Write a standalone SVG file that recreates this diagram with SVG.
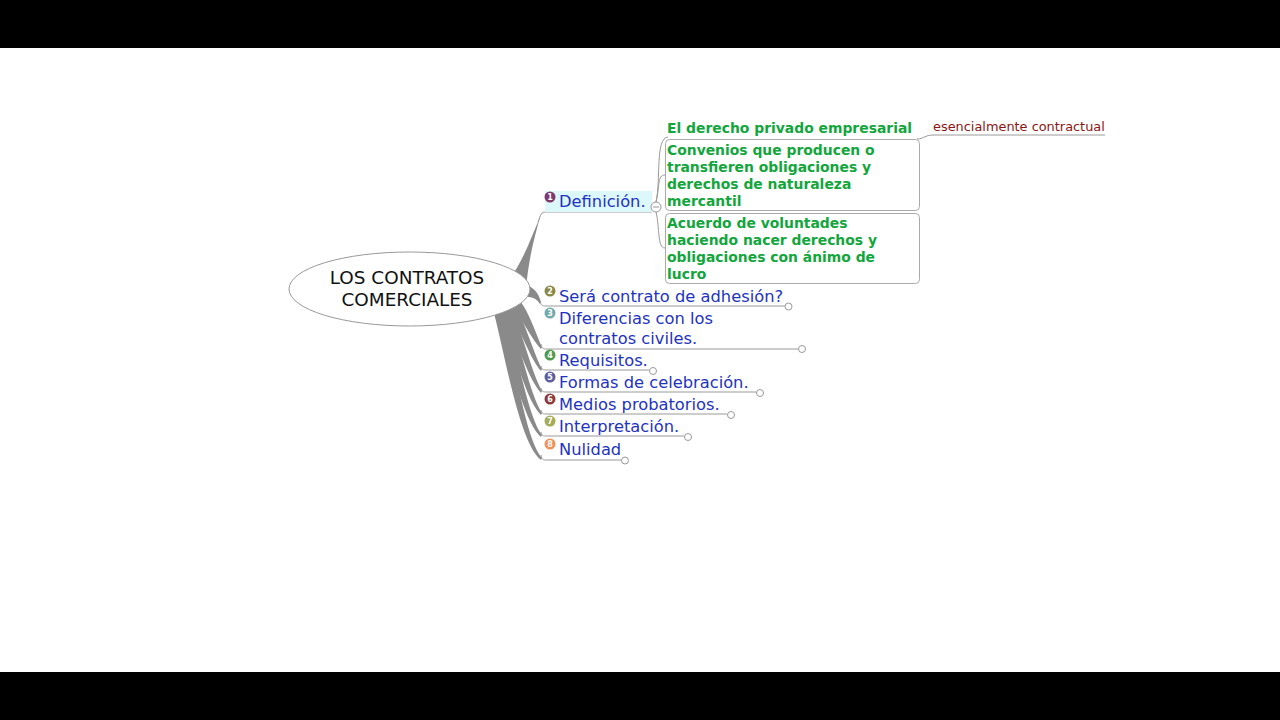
<svg xmlns="http://www.w3.org/2000/svg" width="1280" height="720" viewBox="0 0 1280 720">
<style>
.topic{font-family:"DejaVu Sans",sans-serif;font-size:16.3px;fill:#1f33c0}
.sub{font-family:"DejaVu Sans",sans-serif;font-size:13.9px;font-weight:bold;fill:#12a63c}
.leaf{font-family:"DejaVu Sans",sans-serif;font-size:12.9px;fill:#8b1414}
.root{font-family:"DejaVu Sans",sans-serif;font-size:18.4px;fill:#111}
.thin{fill:none;stroke:#9a9a9a;stroke-width:1}
.branch{fill:#8a8a8a;stroke:none}
.knob{fill:#fff;stroke:#999;stroke-width:1}
.box{fill:#fff;stroke:#aaa;stroke-width:1}
.num{font-family:"DejaVu Sans",sans-serif;font-size:8px;font-weight:bold;fill:#fff;text-anchor:middle}
</style>
<rect x="0" y="0" width="1280" height="720" fill="#fff"/>
<rect x="0" y="0" width="1280" height="48" fill="#000"/>
<rect x="0" y="672" width="1280" height="48" fill="#000"/>

<g id="connectors">
  <!-- tapered main branches -->
  <path class="branch" d="M504,286 C522,265 530,240 538,222 L541,214 C534,238 528,262 526,290 Z"/>
  <path class="branch" d="M518,283 C533,285 538,292 541,302 L540,304 C536,297 530,296 514,297 Z"/>
  <path class="branch" d="M510,292 C526,300 534,330 542,347 L541,349 C528,335 520,310 504,302 Z"/>
  <path class="branch" d="M508,296 C522,310 532,350 542,369 L541,371 C528,356 518,320 502,304 Z"/>
  <path class="branch" d="M506,300 C520,320 530,370 542,391 L541,393 C526,376 514,330 500,306 Z"/>
  <path class="branch" d="M504,304 C518,330 528,392 542,413 L541,415 C524,398 512,340 498,309 Z"/>
  <path class="branch" d="M502,306 C516,340 526,414 542,435 L541,437 C522,420 508,350 496,311 Z"/>
  <path class="branch" d="M500,308 C514,350 524,438 542,458 L541,460 C520,444 506,360 494,313 Z"/>

  <!-- thin underlines -->
  <path class="thin" d="M538,222 C541,214 541,212 546,212 L652,212"/>
  <path class="thin" d="M540.5,302 C541,306 543,306 547,306 L785,306"/>
  <path class="thin" d="M541,344 C542,349 543,349 547,349 L798,349"/>
  <path class="thin" d="M541,366 C542,370 543,370 547,370 L649,370"/>
  <path class="thin" d="M541,388 C542,392 543,392 547,392 L756,392"/>
  <path class="thin" d="M541,410 C542,414 543,414 547,414 L727,414"/>
  <path class="thin" d="M541,432 C542,436 543,436 547,436 L684,436"/>
  <path class="thin" d="M541,455 C542,460 543,460 547,460 L621,460"/>

  <!-- subtopic brackets -->
  <path class="thin" d="M656,202 C661,180 655,138 668,137"/>
  <path class="thin" d="M656,202 C660,186 657,175 665,175"/>
  <path class="thin" d="M656,212 C660,228 657,248 665,248"/>
  <path class="thin" d="M917,139 C924,139 924,135 934,135 L1105,135"/>

  <!-- end knobs -->
  <circle class="knob" cx="788.5" cy="306.5" r="3.5"/>
  <circle class="knob" cx="802" cy="349" r="3.5"/>
  <circle class="knob" cx="653" cy="371" r="3.5"/>
  <circle class="knob" cx="760" cy="393" r="3.5"/>
  <circle class="knob" cx="731" cy="415" r="3.5"/>
  <circle class="knob" cx="688" cy="437" r="3.5"/>
  <circle class="knob" cx="625" cy="460.5" r="3.5"/>
</g>

<g id="root">
  <ellipse cx="409.5" cy="289" rx="120.5" ry="37" fill="#fff" stroke="#999" stroke-width="1"/>
  <text class="root" x="407" y="284" text-anchor="middle">LOS CONTRATOS</text>
  <text class="root" x="407" y="306" text-anchor="middle">COMERCIALES</text>
</g>

<g id="topic1">
  <rect x="545" y="191" width="107" height="21" fill="#dcf8fb"/>
  <circle cx="550" cy="197" r="5.5" fill="#7e3a6e"/><text class="num" x="550" y="200">1</text>
  <text class="topic" x="559" y="207">Definición.</text>
  <circle class="knob" cx="656" cy="207" r="5"/>
  <line x1="653" y1="207" x2="659" y2="207" stroke="#999" stroke-width="1"/>
</g>

<g id="sub1">
  <text class="sub" x="667" y="133">El derecho privado empresarial</text>
</g>
<g id="leaf1">
  <text class="leaf" x="933" y="131">esencialmente contractual</text>
</g>
<g id="sub2">
  <rect class="box" x="665.5" y="139.5" width="254" height="71" rx="4"/>
  <text class="sub" x="667" y="155">Convenios que producen o</text>
  <text class="sub" x="667" y="172">transfieren obligaciones y</text>
  <text class="sub" x="667" y="189">derechos de naturaleza</text>
  <text class="sub" x="667" y="206">mercantil</text>
</g>
<g id="sub3">
  <rect class="box" x="665.5" y="213.5" width="254" height="70" rx="4"/>
  <text class="sub" x="667" y="228">Acuerdo de voluntades</text>
  <text class="sub" x="667" y="245">haciendo nacer derechos y</text>
  <text class="sub" x="667" y="262">obligaciones con ánimo de</text>
  <text class="sub" x="667" y="279">lucro</text>
</g>

<g id="topic2">
  <circle cx="550" cy="291" r="5.5" fill="#8a8a48"/><text class="num" x="550" y="294">2</text>
  <text class="topic" x="559" y="302">Será contrato de adhesión?</text>
</g>
<g id="topic3">
  <circle cx="550" cy="313" r="5.5" fill="#72aaae"/><text class="num" x="550" y="316">3</text>
  <text class="topic" x="559" y="324">Diferencias con los</text>
  <text class="topic" x="559" y="344">contratos civiles.</text>
</g>
<g id="topic4">
  <circle cx="550" cy="355" r="5.5" fill="#4f9a4f"/><text class="num" x="550" y="358">4</text>
  <text class="topic" x="559" y="366">Requisitos.</text>
</g>
<g id="topic5">
  <circle cx="550" cy="377" r="5.5" fill="#5e5e9e"/><text class="num" x="550" y="380">5</text>
  <text class="topic" x="559" y="388">Formas de celebración.</text>
</g>
<g id="topic6">
  <circle cx="550" cy="399" r="5.5" fill="#8e3a3a"/><text class="num" x="550" y="402">6</text>
  <text class="topic" x="559" y="410">Medios probatorios.</text>
</g>
<g id="topic7">
  <circle cx="550" cy="421" r="5.5" fill="#a4ac58"/><text class="num" x="550" y="424">7</text>
  <text class="topic" x="559" y="432">Interpretación.</text>
</g>
<g id="topic8">
  <circle cx="550" cy="444" r="5.5" fill="#f0905a"/><text class="num" x="550" y="447">8</text>
  <text class="topic" x="559" y="455">Nulidad</text>
</g>
</svg>
